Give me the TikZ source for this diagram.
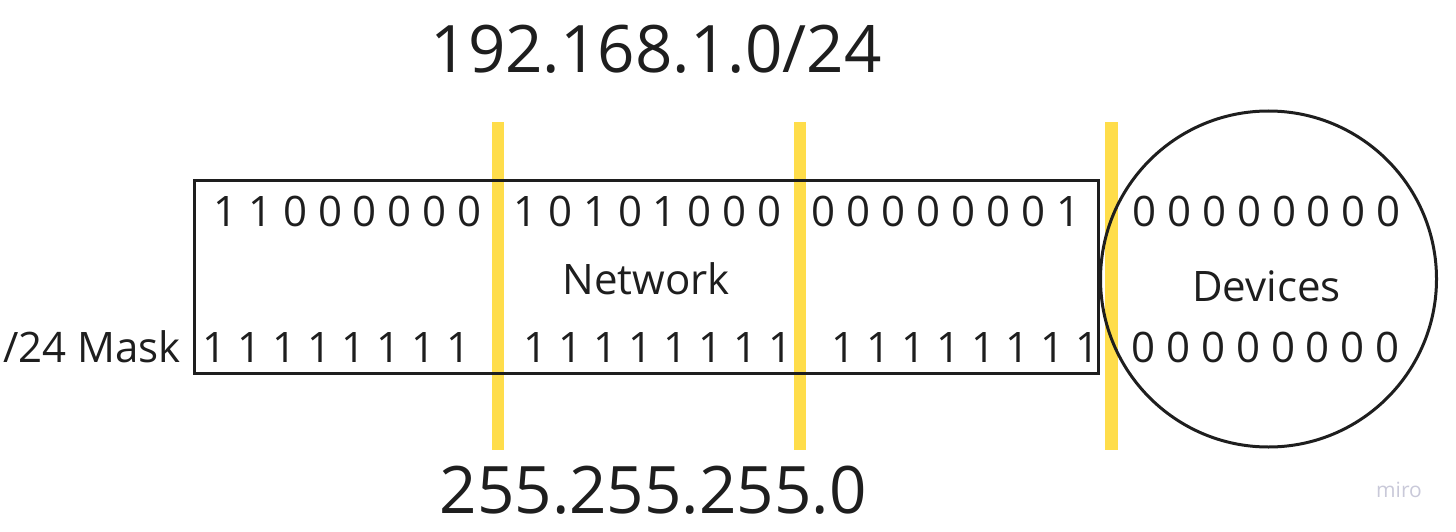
\documentclass[tikz,border=0pt]{standalone}
\usepackage{fontspec}
\setmainfont{Open Sans}
\definecolor{barY}{HTML}{FFDD4A}
\definecolor{ink}{HTML}{1E1E1E}
\definecolor{miroG}{HTML}{C9C9D9}
\begin{document}
\begin{tikzpicture}[x=1pt,y=-1pt,
  bits/.style={inner sep=0pt, anchor=base, text=ink, font=\fontsize{42}{50}\selectfont},
  lbl/.style={inner sep=0pt, anchor=base, text=ink, font=\fontsize{42}{50}\selectfont},
  big/.style={inner sep=0pt, anchor=base, text=ink, font=\fontsize{65.5}{78}\selectfont},
  ybar/.style={fill=barY},
  outline/.style={draw=ink, line width=3pt}]
\useasboundingbox (0,0) rectangle (1456,532);
% yellow separators
\fill[ybar] (492,122) rectangle (504,450);
\fill[ybar] (794,122) rectangle (806,450);
\fill[ybar] (1105,122) rectangle (1118,450);
% network box and devices circle
\node[outline, rectangle, minimum width=904pt, minimum height=193pt, inner sep=0pt] (net) at (646,276.5) {};
\node[outline, circle, minimum size=336pt, inner sep=0pt] (dev) at (1268.5,279) {};
% titles
\node[big] (ip) at (656,73) {192.168.1.0/24};
\node[big] (mask) at (653,513) {255.255.255.0};
% address bits
\node[bits] (a1) at (347.5,226) {1 1 0 0 0 0 0 0};
\node[bits] (a2) at (647.5,226) {1 0 1 0 1 0 0 0};
\node[bits] (a3) at (946,226) {0 0 0 0 0 0 0 1};
\node[bits] (a4) at (1266.5,226) {0 0 0 0 0 0 0 0};
% labels
\node[lbl] (netl) at (646,294) {Network};
\node[lbl] (devl) at (1266.5,301) {Devices};
% mask bits
\node[lbl, anchor=base east] (ml) at (181,362) {/24 Mask};
\node[bits] (m1) at (336.5,362) {1 1 1 1 1 1 1 1};
\node[bits] (m2) at (658,362) {1 1 1 1 1 1 1 1};
\node[bits] (m3) at (965.5,362) {1 1 1 1 1 1 1 1};
\node[bits] (m4) at (1265.5,362) {0 0 0 0 0 0 0 0};
% watermark
\node[inner sep=0pt, anchor=base, text=miroG, font=\fontsize{21}{25}\selectfont] (miro) at (1399,497) {miro};
\end{tikzpicture}
\end{document}
